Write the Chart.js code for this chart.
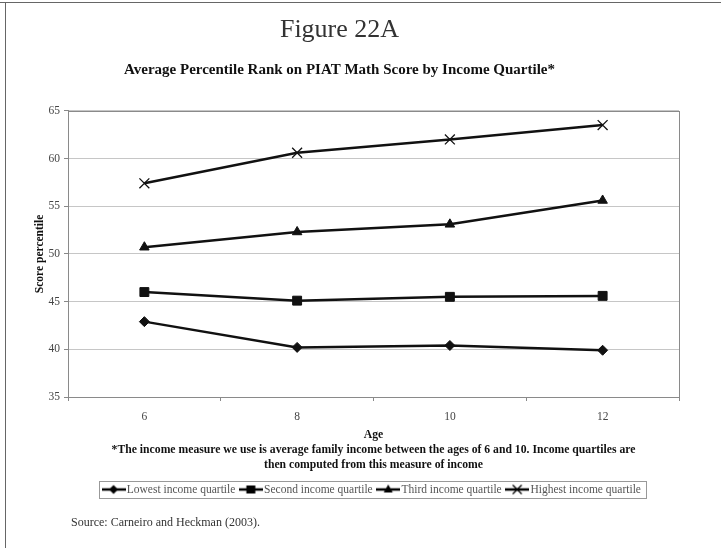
<!DOCTYPE html>
<html>
<head>
<meta charset="utf-8">
<script src="https://cdn.jsdelivr.net/npm/chart.js@4.4.1/dist/chart.umd.min.js"></script>
<style>
html,body{margin:0;padding:0;background:#fff;}
#wrap{position:relative;width:721px;height:548px;overflow:hidden;background:#fff;}
#topline{position:absolute;left:0;top:2px;width:721px;height:0;border-top:1.5px solid #666;}
#leftline{position:absolute;left:5px;top:2px;width:0;height:560px;border-left:1.5px solid #666;}
#c{position:absolute;left:0;top:0;}
#source{position:absolute;left:71px;top:515px;font:12px "Liberation Serif","Times New Roman",serif;color:#333;white-space:nowrap;}
</style>
</head>
<body>
<div id="wrap">
  <div id="topline"></div>
  <div id="leftline"></div>
  <canvas id="c" width="721" height="548" style="width:721px;height:548px"></canvas>
  <div id="source">Source: Carneiro and Heckman (2003).</div>
</div>
<script>
// ---- data ----
const ages = ['6', '8', '10', '12'];
const lowest = [42.9, 40.2, 40.4, 39.9];
const second = [46.0, 45.1, 45.5, 45.6];
const third = [50.7, 52.3, 53.1, 55.6];
const highest = [57.4, 60.6, 62.0, 63.5];
const seriesNames = ['Lowest income quartile', 'Second income quartile', 'Third income quartile', 'Highest income quartile'];
const yTicks = [35, 40, 45, 50, 55, 60, 65];
const chartTitle = 'Figure 22A';
const chartSubtitle = 'Average Percentile Rank on PIAT Math Score by Income Quartile*';
const xTitle = ['Age', '*The income measure we use is average family income between the ages of 6 and 10. Income quartiles are', 'then computed from this measure of income'];
const yTitle = 'Score percentile';

// ---- styles ----
const SERIF = '"Liberation Serif", "Times New Roman", serif';
const markerStyles = [
  {pointStyle: 'rectRot', radius: 5, bw: 1},
  {pointStyle: 'rect', radius: 6.3, bw: 1},
  {pointStyle: 'triangle', radius: 5.5, bw: 1},
  {pointStyle: 'crossRot', radius: 7, bw: 1.3}
];
const seriesValues = [lowest, second, third, highest];

function makeIcon(style) {
  const c = document.createElement('canvas');
  c.width = 24; c.height = 14;
  const ctx = c.getContext('2d');
  ctx.strokeStyle = '#000'; ctx.fillStyle = '#000';
  ctx.lineWidth = 2.5;
  ctx.beginPath(); ctx.moveTo(0, 7); ctx.lineTo(24, 7); ctx.stroke();
  const cx = 12, cy = 7;
  ctx.lineWidth = 1;
  ctx.beginPath();
  if (style === 'rectRot') {
    ctx.moveTo(cx, cy - 4.5); ctx.lineTo(cx + 4.5, cy); ctx.lineTo(cx, cy + 4.5); ctx.lineTo(cx - 4.5, cy); ctx.closePath(); ctx.fill();
  } else if (style === 'rect') {
    ctx.rect(cx - 4.5, cy - 4, 9, 8); ctx.fill();
  } else if (style === 'triangle') {
    ctx.moveTo(cx, cy - 5); ctx.lineTo(cx + 4.5, cy + 3); ctx.lineTo(cx - 4.5, cy + 3); ctx.closePath(); ctx.fill();
  } else {
    ctx.lineWidth = 1.3;
    ctx.moveTo(cx - 4.5, cy - 4.5); ctx.lineTo(cx + 4.5, cy + 4.5);
    ctx.moveTo(cx + 4.5, cy - 4.5); ctx.lineTo(cx - 4.5, cy + 4.5); ctx.stroke();
  }
  return c;
}
const legendIcons = markerStyles.map(m => makeIcon(m.pointStyle));

const datasets = seriesValues.map((vals, i) => ({
  label: seriesNames[i],
  data: vals,
  borderColor: '#111',
  backgroundColor: '#111',
  borderWidth: 2.5,
  pointStyle: markerStyles[i].pointStyle,
  pointRadius: markerStyles[i].radius,
  pointHoverRadius: markerStyles[i].radius,
  pointBackgroundColor: '#111',
  pointBorderColor: '#111',
  pointBorderWidth: markerStyles[i].bw,
  tension: 0,
  clip: false
}));

const plotBox = {
  id: 'plotBox',
  beforeDatasetsDraw(chart) {
    const a = chart.chartArea, ctx = chart.ctx;
    ctx.save();
    ctx.strokeStyle = '#8a8a8a';
    ctx.lineWidth = 1;
    ctx.strokeRect(Math.round(a.left) + 0.5, Math.round(a.top) + 0.5, Math.round(a.right - a.left), Math.round(a.bottom - a.top));
    ctx.restore();
  }
};

const legendFrame = {
  id: 'legendFrame',
  afterDraw(chart) {
    const lg = chart.legend;
    if (!lg || !lg.legendHitBoxes || !lg.legendHitBoxes.length) return;
    const hb = lg.legendHitBoxes;
    const first = hb[0], last = hb[hb.length - 1];
    const cy = first.top + first.height / 2;
    const left = first.left - 7;
    const right = last.left + last.width + 5;
    const ctx = chart.ctx;
    ctx.save();
    ctx.strokeStyle = '#999';
    ctx.lineWidth = 1;
    ctx.strokeRect(Math.round(left) + 0.5, Math.round(cy - 9) + 0.5, Math.round(right - left), 17);
    ctx.restore();
  }
};

new Chart(document.getElementById('c'), {
  type: 'line',
  data: { labels: ages, datasets: datasets },
  options: {
    responsive: false,
    animation: false,
    devicePixelRatio: 1,
    layout: { padding: { top: 0, left: 0, right: 42, bottom: 42.75 } },
    plugins: {
      tooltip: { enabled: false },
      title: {
        display: true, text: chartTitle, color: '#333',
        font: { family: SERIF, size: 26, weight: 'normal' },
        padding: { top: 15, bottom: 9.6 }
      },
      subtitle: {
        display: true, text: chartSubtitle, color: '#111',
        font: { family: SERIF, size: 15, weight: 'bold' },
        padding: { top: 5, bottom: 32 }
      },
      legend: {
        display: true, position: 'bottom', fullSize: false,
        labels: {
          usePointStyle: true, pointStyleWidth: 15, padding: 8,
          color: '#555', font: { family: SERIF, size: 11.5 },
          generateLabels(chart) {
            const items = Chart.defaults.plugins.legend.labels.generateLabels(chart);
            items.forEach((it, i) => { it.pointStyle = legendIcons[i]; it.rotation = 0; });
            return items;
          }
        }
      }
    },
    scales: {
      x: {
        type: 'category', offset: true,
        afterFit(scale) { scale.height = 78.75; },
        grid: { offset: true, drawOnChartArea: false, drawTicks: true, tickLength: 4, color: '#888' },
        border: { color: '#888', width: 1 },
        ticks: { color: '#444', padding: 9, font: { family: SERIF, size: 11.5 } },
        title: {
          display: true, text: xTitle, color: '#111',
          font: { family: SERIF, size: 11.7, weight: 'bold', lineHeight: 1.25 },
          padding: { top: 5, bottom: 3.8 }
        }
      },
      y: {
        min: 35, max: 65,
        afterBuildTicks(scale) { scale.ticks = yTicks.map(v => ({ value: v })); },
        afterFit(scale) { scale.width = 68; },
        grid: { color: '#c6c6c6', tickColor: '#888', tickLength: 4, drawTicks: true },
        border: { color: '#888', width: 1 },
        ticks: { color: '#444', padding: 4, font: { family: SERIF, size: 11.5 } },
        title: {
          display: true, text: yTitle, color: '#111',
          font: { family: SERIF, size: 11.5, weight: 'bold' },
          padding: { top: 33, bottom: 2 }
        }
      }
    }
  },
  plugins: [plotBox, legendFrame]
});
</script>
</body>
</html>
